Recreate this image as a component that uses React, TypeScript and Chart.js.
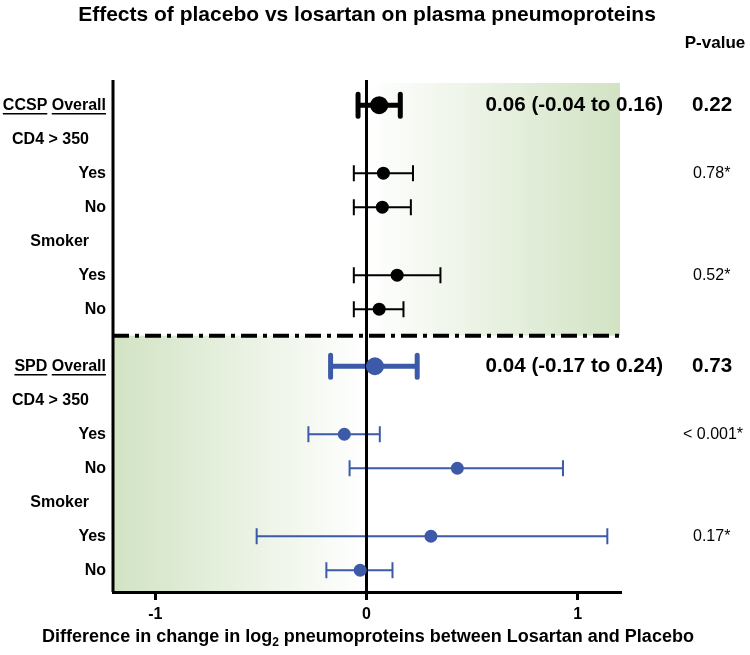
import React, { useEffect, useRef } from "react";
import { Chart, registerables } from "chart.js";
Chart.register(...registerables);

// ---- Data ----
const rowLabels = ["CCSP Overall", "CD4 > 350", "Yes", "No", "Smoker", "Yes", "No",
  "SPD Overall", "CD4 > 350", "Yes", "No", "Smoker", "Yes", "No"];
const rowPositions = [0, 1, 2, 3, 4, 5, 6, 7.68, 8.68, 9.68, 10.68, 11.68, 12.68, 13.68];
const dividerPosition = 6.78;

const ccspRows = [0, 2, 3, 5, 6];
const ccspEstimate = [0.06, 0.08, 0.075, 0.145, 0.06];
const ccspLower = [-0.04, -0.06, -0.06, -0.06, -0.06];
const ccspUpper = [0.16, 0.22, 0.21, 0.35, 0.175];

const spdRows = [7, 9, 10, 12, 13];
const spdEstimate = [0.04, -0.105, 0.43, 0.305, -0.03];
const spdLower = [-0.17, -0.275, -0.08, -0.52, -0.19];
const spdUpper = [0.24, 0.063, 0.93, 1.14, 0.123];

const summaryRows = [0, 7];
const summaryTexts = ["0.06 (-0.04 to 0.16)", "0.04 (-0.17 to 0.24)"];
const summaryP = ["0.22", "0.73"];

const interactionRows = [2, 5, 9, 12];
const interactionP = ["0.78*", "0.52*", "< 0.001*", "0.17*"];

const xTicks = [-1, 0, 1];
const xTitleParts = ["Difference in change in log", "2", " pneumoproteins between Losartan and Placebo"];

const FONT = "'Liberation Sans', Arial, Helvetica, sans-serif";
const BLACK = "#000000";
const BLUE = "#3d5aa8";
const GREEN = "#d2e3c4";

const forestPlugin = {
  id: "forest",
  beforeDraw(chart: any) {
    const { ctx, chartArea, scales } = chart;
    const x = scales.x, y = scales.y;
    const x0 = x.getPixelForValue(0);
    const yd = y.getPixelForValue(dividerPosition);
    ctx.save();
    let g = ctx.createLinearGradient(x0, 0, chartArea.right, 0);
    g.addColorStop(0, "#ffffff");
    g.addColorStop(1, GREEN);
    ctx.fillStyle = g;
    ctx.fillRect(x0, chartArea.top + 3, chartArea.right - x0, yd - chartArea.top - 3);
    g = ctx.createLinearGradient(chartArea.left, 0, x0, 0);
    g.addColorStop(0, GREEN);
    g.addColorStop(1, "#ffffff");
    ctx.fillStyle = g;
    ctx.fillRect(chartArea.left, yd, x0 - chartArea.left, chartArea.bottom - yd);
    ctx.restore();
  },
  beforeDatasetsDraw(chart: any) {
    const { ctx, chartArea, scales } = chart;
    const x = scales.x, y = scales.y;
    ctx.save();
    const drawBars = (rows: number[], lo: number[], hi: number[], color: string) => {
      rows.forEach((r, i) => {
        const py = y.getPixelForValue(rowPositions[r]);
        const xl = x.getPixelForValue(lo[i]);
        const xh = x.getPixelForValue(hi[i]);
        const overall = i === 0;
        const lw = overall ? 5 : 2;
        const cap = overall ? 11 : 8;
        ctx.strokeStyle = color;
        ctx.lineWidth = lw;
        ctx.lineCap = overall ? "round" : "butt";
        ctx.beginPath();
        ctx.moveTo(xl, py); ctx.lineTo(xh, py);
        ctx.moveTo(xl, py - cap); ctx.lineTo(xl, py + cap);
        ctx.moveTo(xh, py - cap); ctx.lineTo(xh, py + cap);
        ctx.stroke();
      });
    };
    drawBars(ccspRows, ccspLower, ccspUpper, BLACK);
    drawBars(spdRows, spdLower, spdUpper, BLUE);
    ctx.lineCap = "butt";
    ctx.strokeStyle = BLACK;
    ctx.lineWidth = 3;
    ctx.beginPath();
    ctx.moveTo(chartArea.left, chartArea.top);
    ctx.lineTo(chartArea.left, chartArea.bottom);
    ctx.stroke();
    const x0 = x.getPixelForValue(0);
    ctx.beginPath();
    ctx.moveTo(x0, chartArea.top);
    ctx.lineTo(x0, chartArea.bottom);
    ctx.stroke();
    const yd = y.getPixelForValue(dividerPosition);
    ctx.lineWidth = 4;
    ctx.setLineDash([16, 6, 4, 6]);
    ctx.beginPath();
    ctx.moveTo(chartArea.left, yd);
    ctx.lineTo(chartArea.right, yd);
    ctx.stroke();
    ctx.restore();
  },
  afterDraw(chart: any) {
    const { ctx, scales, chartArea } = chart;
    const y = scales.y;
    ctx.save();
    ctx.fillStyle = BLACK;
    ctx.textBaseline = "middle";
    ctx.font = `bold 21px ${FONT}`;
    ctx.textAlign = "center";
    ctx.fillText("Effects of placebo vs losartan on plasma pneumoproteins", 367, 15);
    ctx.font = `bold 17px ${FONT}`;
    ctx.fillText("P-value", 715, 43);

    // x-axis title with subscript
    const big = `bold 18px ${FONT}`;
    const small = `bold 12px ${FONT}`;
    ctx.font = big;
    const wA = ctx.measureText(xTitleParts[0]).width;
    const wC = ctx.measureText(xTitleParts[2]).width;
    ctx.font = small;
    const wB = ctx.measureText(xTitleParts[1]).width;
    const total = wA + wB + wC;
    let sx = 368 - total / 2;
    const ty = 637;
    ctx.textAlign = "left";
    ctx.font = big;
    ctx.fillText(xTitleParts[0], sx, ty);
    sx += wA;
    ctx.font = small;
    ctx.fillText(xTitleParts[1], sx, ty + 6);
    sx += wB;
    ctx.font = big;
    ctx.fillText(xTitleParts[2], sx, ty);

    ctx.font = `bold 16px ${FONT}`;
    const labelRight = chartArea.left - 7;
    rowLabels.forEach((lab, i) => {
      const py = y.getPixelForValue(rowPositions[i]);
      if (lab.endsWith("Overall")) {
        const parts = lab.split(" ");
        ctx.textAlign = "right";
        const w2 = ctx.measureText(parts[1]).width;
        const gap = ctx.measureText(" ").width;
        ctx.fillText(parts[1], labelRight, py);
        const w1 = ctx.measureText(parts[0]).width;
        ctx.fillText(parts[0], labelRight - w2 - gap, py);
        ctx.lineWidth = 1.5;
        ctx.beginPath();
        ctx.moveTo(labelRight - w2, py + 8.5); ctx.lineTo(labelRight, py + 8.5);
        ctx.moveTo(labelRight - w2 - gap - w1, py + 8.5); ctx.lineTo(labelRight - w2 - gap, py + 8.5);
        ctx.stroke();
      } else if (lab === "Yes" || lab === "No") {
        ctx.textAlign = "right";
        ctx.fillText(lab, labelRight, py);
      } else {
        ctx.textAlign = "right";
        ctx.fillText(lab, 89, py);
      }
    });
    summaryRows.forEach((r, i) => {
      const py = y.getPixelForValue(rowPositions[r]);
      ctx.font = `bold 20.6px ${FONT}`;
      ctx.textAlign = "right";
      ctx.fillText(summaryTexts[i], 663, py);
      ctx.textAlign = "left";
      ctx.fillText(summaryP[i], 692, py);
    });
    ctx.font = `16px ${FONT}`;
    ctx.textAlign = "left";
    interactionRows.forEach((r, i) => {
      const py = y.getPixelForValue(rowPositions[r]);
      const txt = interactionP[i];
      ctx.fillText(txt, txt.startsWith("<") ? 683 : 693, py);
    });
    ctx.restore();
  },
};

export default function App() {
  const ref = useRef<HTMLCanvasElement>(null);
  useEffect(() => {
    const chart = new Chart(ref.current!, {
      type: "scatter",
      data: {
        datasets: [
          {
            label: "CCSP",
            data: ccspRows.map((r, i) => ({ x: ccspEstimate[i], y: rowPositions[r] })),
            backgroundColor: BLACK,
            borderColor: BLACK,
            pointRadius: ccspRows.map((_, i) => (i === 0 ? 9 : 6.5)),
            borderWidth: 0,
          },
          {
            label: "SPD",
            data: spdRows.map((r, i) => ({ x: spdEstimate[i], y: rowPositions[r] })),
            backgroundColor: BLUE,
            borderColor: BLUE,
            pointRadius: spdRows.map((_, i) => (i === 0 ? 9 : 6.5)),
            borderWidth: 0,
          },
        ],
      },
      options: {
        animation: false,
        responsive: true,
        maintainAspectRatio: false,
        layout: { padding: { left: 113, right: 130, top: 80, bottom: 0 } },
        plugins: { legend: { display: false }, tooltip: { enabled: false }, title: { display: false } },
        scales: {
          x: {
            type: "linear",
            min: -1.2,
            max: 1.2,
            afterBuildTicks: (scale: any) => { scale.ticks = xTicks.map((v) => ({ value: v })); },
            afterFit: (scale: any) => { scale.height = 63; },
            border: { display: true, color: BLACK, width: 3 },
            grid: { display: true, drawOnChartArea: false, drawTicks: true, tickLength: 8, lineWidth: 3, color: BLACK },
            ticks: { color: BLACK, font: { family: FONT, size: 16, weight: "bold" }, padding: 5, callback: (v: any) => String(v) },
            title: { display: false },
          },
          y: {
            type: "linear",
            reverse: true,
            min: -0.74,
            max: 14.32,
            display: false,
          },
        },
      },
      plugins: [forestPlugin],
    } as any);
    return () => chart.destroy();
  }, []);
  return (
    <div style={{ position: "fixed", left: 0, top: 0, width: 750, height: 655, background: "#fff" }}>
      <canvas ref={ref} />
    </div>
  );
}
